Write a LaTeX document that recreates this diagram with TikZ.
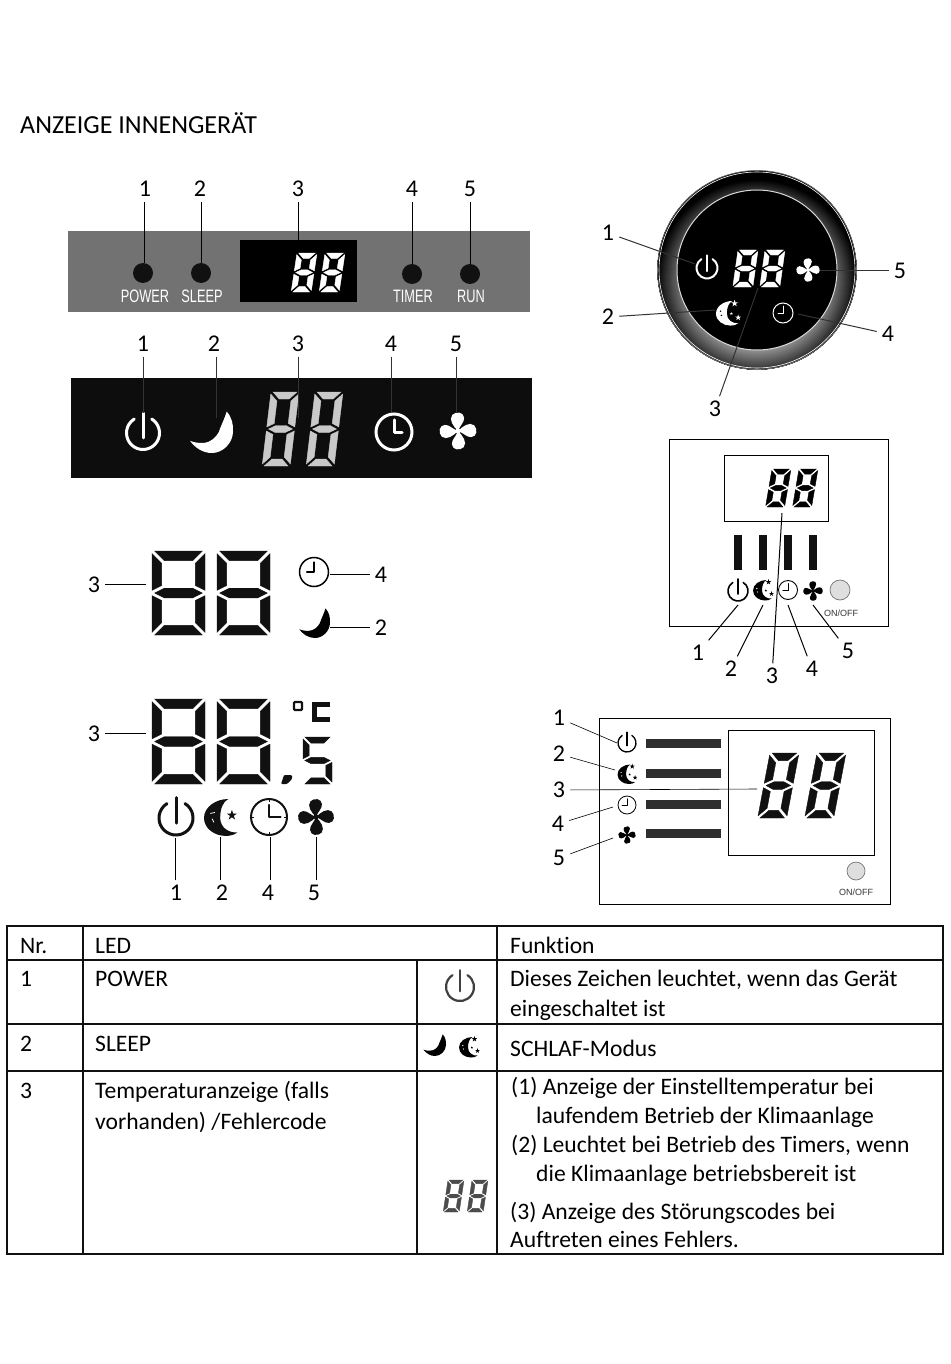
\documentclass[tikz,border=0pt]{standalone}
\usepackage{fontspec}
\setmainfont{Carlito}[Ligatures=CommonOff]
\newfontfamily\panelfont{Liberation Sans}
\definecolor{greypanel}{HTML}{727272}
\definecolor{inkdark}{HTML}{111111}
\definecolor{barcol}{HTML}{2E2E2E}
\definecolor{segpale}{HTML}{C9C9C9}
\tikzset{
  lbl/.style={font=\fontsize{24}{24}\selectfont,inner sep=5pt,text height=15pt,text depth=0pt,yshift=-1pt},
  conn/.style={draw=black,line width=1pt},
  thinconn/.style={draw=black,line width=.6pt},
  ringconn/.style={draw=black!80,line width=1pt},
  paneltxt/.style={font=\panelfont\fontsize{18}{18}\selectfont,text=white,transform shape,xscale=.71,inner sep=0pt},
  onoff/.style={font=\panelfont\fontsize{9}{9}\selectfont,text=black!80,inner sep=0pt},
  celltxt/.style={font=\fontsize{23.6}{23.6}\selectfont,anchor=base west,inner sep=0pt},
  frame/.style={draw=black,line width=1pt},
  gridline/.style={draw=inkdark,line width=1.4pt},
  button/.style={draw=black!55,fill=black!13,line width=.7pt},
}
% seven segment digit: x y w h t slant colour
\newcommand{\segA}{\filldraw (\dD,0)--({\dW-\dD},0)--({\dW-\dT-\dD},\dT)--({\dT+\dD},\dT)--cycle;}
\newcommand{\segF}{\filldraw (0,\dD)--(\dT,{\dT+\dD})--(\dT,{\dM-\dT/2-\dD})--(0,{\dM-\dD})--cycle;}
\newcommand{\segB}{\filldraw (\dW,\dD)--({\dW-\dT},{\dT+\dD})--({\dW-\dT},{\dM-\dT/2-\dD})--(\dW,{\dM-\dD})--cycle;}
\newcommand{\segG}{\filldraw (\dD,\dM)--({\dT+\dD},{\dM-\dT/2})--({\dW-\dT-\dD},{\dM-\dT/2})--({\dW-\dD},\dM)--({\dW-\dT-\dD},{\dM+\dT/2})--({\dT+\dD},{\dM+\dT/2})--cycle;}
\newcommand{\segE}{\filldraw (0,{\dM+\dD})--(\dT,{\dM+\dT/2+\dD})--(\dT,{\dH-\dT-\dD})--(0,{\dH-\dD})--cycle;}
\newcommand{\segC}{\filldraw (\dW,{\dM+\dD})--({\dW-\dT},{\dM+\dT/2+\dD})--({\dW-\dT},{\dH-\dT-\dD})--(\dW,{\dH-\dD})--cycle;}
\newcommand{\segD}{\filldraw (\dD,\dH)--({\dW-\dD},\dH)--({\dW-\dT-\dD},{\dH-\dT})--({\dT+\dD},{\dH-\dT})--cycle;}
\newcommand{\lcdsetup}[3]{\def\dW{#1}\def\dH{#2}\def\dT{#3}\pgfmathsetmacro{\dD}{0.25*#3+0.3}\pgfmathsetmacro{\dM}{#2/2}\pgfmathsetlengthmacro{\dL}{0.12*#3 pt}\tikzset{line width=\dL,line join=round}}
\newcommand{\lcdeight}[7]{\begin{scope}[shift={(#1,#2)},xslant=#6,fill=#7,draw=#7]\lcdsetup{#3}{#4}{#5}\segA\segB\segC\segD\segE\segF\segG\end{scope}}
\newcommand{\lcdfive}[7]{\begin{scope}[shift={(#1,#2)},xslant=#6,fill=#7,draw=#7]\lcdsetup{#3}{#4}{#5}\segA\segF\segG\segC\segD\end{scope}}
% icons, drawn in a unit circle with y up
\newcommand{\iconpwr}[5]{\begin{scope}[shift={(#1,#2)},x=#3pt,y=#3pt,line cap=round,line width=#4pt]
  \draw[#5] (58:1) arc (58:-238:1); \draw[#5] (0,1.2)--(0,-.3);\end{scope}}
\newcommand{\moonpath}{(.7,.97) .. controls (.95,.7) and (1.02,.35) .. (1,0) .. controls (.98,-.55) and (.5,-1) .. (0,-1) .. controls (-.45,-1) and (-.8,-.75) .. (-1.05,-.42) .. controls (-.7,-.55) and (-.4,-.55) .. (-.17,-.47) .. controls (.12,-.35) and (.35,-.05) .. (.39,.18) .. controls (.5,.45) and (.62,.7) .. (.7,.97) -- cycle}
\newcommand{\iconmoon}[4]{\begin{scope}[shift={(#1,#2)},x=#3pt,y=#3pt]\fill[#4] \moonpath;\end{scope}}
\newcommand{\mstar}[3]{\fill[shift={(#1,#2)},scale=#3] (90:1)--(126:.38)--(162:1)--(198:.38)--(234:1)--(270:.38)--(306:1)--(342:.38)--(18:1)--(54:.38)--cycle;}
\newcommand{\crescent}{(.35,1) .. controls (-.35,1) and (-1,.55) .. (-1,-.05) .. controls (-1,-.65) and (-.4,-1.05) .. (.2,-1.05) .. controls (.45,-1.05) and (.7,-1) .. (.85,-.85) .. controls (.4,-.9) and (-.1,-.6) .. (-.1,-.05) .. controls (-.1,.45) and (.05,.85) .. (.35,1) -- cycle}
\newcommand{\iconms}[5]{\begin{scope}[shift={(#1,#2)},x=#3pt,y=#3pt]\fill[#4] \crescent;
  \begin{scope}[fill=#4]\mstar{.55}{.8}{.3}\mstar{.28}{-.05}{.13}\mstar{.85}{-.38}{.26}\end{scope}
  \fill[#5] (-.62,.15) circle (.07); \fill[#5] (-.55,-.2) circle (.07);\end{scope}}
\newcommand{\iconmsone}[5]{\begin{scope}[shift={(#1,#2)},x=#3pt,y=#3pt]\fill[#4] \crescent;
  \begin{scope}[fill=#4]\mstar{.55}{.1}{.3}\end{scope}
  \draw[#5,line width=.8pt] (-.65,.2)--(-.4,.25) (-.55,-.1)--(-.45,-.3);\end{scope}}
\newcommand{\iconclock}[6]{\begin{scope}[shift={(#1,#2)},x=#3pt,y=#3pt,line width=#4pt]
  \draw[#5] (0,0) circle (1); \draw[#5,line cap=round,line join=round] (0,.68)--(0,0)--(#6,0);\end{scope}}
\newcommand{\iconfan}[4]{\begin{scope}[shift={(#1,#2)},x=#3pt,y=#3pt]
  \foreach \bladeang in {0,90,180,270}{\fill[#4,rotate=\bladeang] (0,0) .. controls (-.25,.25) and (-.5,.6) .. (-.3,.85) .. controls (-.1,1.05) and (.3,1) .. (.32,.7) .. controls (.34,.45) and (.1,.3) .. (0,0) -- cycle;}
  \fill[#4] (0,0) circle (.14);\end{scope}}
\begin{document}
\begin{tikzpicture}[x=1pt,y=-1pt]
\useasboundingbox (0,0) rectangle (950,1364);
\node[celltxt,font=\fontsize{26}{26}\selectfont] (title) at (20,134) {ANZEIGE INNENGERÄT};

% ---------- grey panel
\fill[greypanel] (68,231) rectangle (530,312);
\fill[black] (240,240) rectangle (357,302);
\lcdeight{297}{253}{20}{39}{5.4}{.15}{white}
\lcdeight{325}{253}{20}{39}{5.4}{.15}{white}
\fill[inkdark] (143,273) circle (10);
\fill[inkdark] (201,273) circle (10);
\fill[inkdark] (412,274) circle (10);
\fill[inkdark] (470,274) circle (10);
\node[paneltxt] (tpower) at (145,296) {POWER};
\node[paneltxt] (tsleep) at (202,296) {SLEEP};
\node[paneltxt] (ttimer) at (413,296) {TIMER};
\node[paneltxt] (trun) at (471,296) {RUN};
\node[lbl] (a1) at (145,188) {1};
\node[lbl] (a2) at (200,188) {2};
\node[lbl] (a3) at (298,188) {3};
\node[lbl] (a4) at (412,188) {4};
\node[lbl] (a5) at (470,188) {5};
\coordinate (pa1) at (144,263);
\coordinate (pa2) at (201,263);
\coordinate (pa3) at (298,240);
\coordinate (pa4) at (412,264);
\coordinate (pa5) at (470,264);
\foreach \lab/\pt in {a1/pa1,a2/pa2,a3/pa3,a4/pa4,a5/pa5}{\draw[conn] (\lab.south -| \pt) -- (\pt);}

% ---------- black panel
\fill[black!95] (71,378) rectangle (532,478);
\iconpwr{143}{433}{16.5}{3}{white}
\iconmoon{212}{432}{21}{white}
\lcdeight{271}{392}{28}{74}{7}{.12}{segpale}
\lcdeight{315}{392}{28}{74}{7}{.12}{segpale}
\iconclock{394}{432}{18}{3}{white}{.45}
\iconfan{458}{431}{19}{white}
\node[lbl] (b1) at (143,343) {1};
\node[lbl] (b2) at (214,343) {2};
\node[lbl] (b3) at (298,343) {3};
\node[lbl] (b4) at (391,343) {4};
\node[lbl] (b5) at (456,343) {5};
\coordinate (pb1) at (143,413);
\coordinate (pb2) at (216,418);
\coordinate (pb3) at (298,418);
\coordinate (pb4) at (391,412);
\coordinate (pb5) at (456,412);
\foreach \lab/\pt in {b1/pb1,b2/pb2,b3/pb3,b4/pb4,b5/pb5}{\draw[conn,draw=black!80] (\lab.south -| \pt) -- (\pt);}

% ---------- round panel
\coordinate (rc) at (757,270);
\begin{scope}
  \clip (rc) circle (99.5);
  \foreach \ringd in {110,109,...,68}{
    \pgfmathsetmacro{\ringp}{min(100,38+1.9*(\ringd-68))}
    \fill[black!\ringp] (757,280) circle (\ringd);
  }
\end{scope}
\draw[black!55,line width=.7pt] (rc) circle (99.5);
\draw[white,line width=.6pt] (rc) circle (98);
\fill[black] (rc) circle (80);
\draw[black!15,line width=1pt] (rc) circle (80);
\iconpwr{707}{268}{10.5}{2}{white}
\lcdeight{738}{250}{20}{37}{5}{.14}{white}
\lcdeight{765}{250}{20}{37}{5}{.14}{white}
\iconfan{808}{270}{12}{white}
\iconms{728}{313}{12}{white}{black}
\iconclock{783}{313}{10}{1}{white}{-.5}
\node[lbl] (c1) at (608,232) {1};
\node[lbl] (c2) at (608,316) {2};
\node[lbl] (c3) at (715,408) {3};
\node[lbl] (c4) at (888,333) {4};
\node[lbl] (c5) at (900,270) {5};
\coordinate (pc1) at (695,264);
\coordinate (pc2) at (715,310);
\coordinate (pc3) at (758,288);
\coordinate (pc4) at (798,314);
\coordinate (pc5) at (820,270);
\foreach \lab/\pt in {c1/pc1,c2/pc2,c3/pc3,c4/pc4}{\draw[ringconn] (\lab) -- (\pt);}
\draw[ringconn] (c5.west |- pc5) -- (pc5);

% ---------- square panel
\draw[frame] (669,439) rectangle (888,626);
\draw[frame] (724,455) rectangle (828,521);
\lcdeight{772}{469}{19}{38}{5.2}{.17}{black}
\lcdeight{799}{469}{19}{38}{5.2}{.17}{black}
\foreach \bx in {734,759,784,809}{\fill[inkdark] (\bx,535) rectangle (\bx+8,570);}
\iconpwr{738}{591}{10}{1.6}{black}
\iconms{763}{590}{10}{black}{white}
\iconclock{788}{590}{9.5}{.9}{black}{-.55}
\iconfan{813}{591}{10}{black}
\draw[button] (840,590) circle (10);
\node[onoff] (d6) at (841,613) {ON/OFF};
\node[lbl] (d1) at (698,652) {1};
\node[lbl] (d2) at (731,668) {2};
\node[lbl] (d3) at (772,675) {3};
\node[lbl] (d4) at (812,668) {4};
\node[lbl] (d5) at (848,650) {5};
\coordinate (pd1) at (738,605);
\coordinate (pd2) at (763,605);
\coordinate (pd3) at (782,513);
\coordinate (pd4) at (788,605);
\coordinate (pd5) at (813,605);
\foreach \lab/\pt in {d1/pd1,d2/pd2,d3/pd3,d4/pd4,d5/pd5}{\draw[conn] (\lab) -- (\pt);}

% ---------- large digits, upper
\lcdeight{152}{551}{53}{84}{9.6}{0}{inkdark}
\lcdeight{217}{551}{53}{84}{9.6}{0}{inkdark}
\iconclock{314}{572}{14.5}{1.5}{black}{-.5}
\iconmoon{315}{623}{15}{black}
\node[lbl] (e3) at (94,584) {3};
\node[lbl] (e4) at (381,574) {4};
\node[lbl] (e2) at (381,627) {2};
\coordinate (pe3) at (146,584);
\coordinate (pe4) at (330,574);
\coordinate (pe2) at (330,627);
\draw[conn] (e3.east |- pe3) -- (pe3);
\draw[conn] (e4.west |- pe4) -- (pe4);
\draw[conn] (e2.west |- pe2) -- (pe2);

% ---------- large digits, lower
\lcdeight{152}{699}{53}{85}{9.6}{0}{inkdark}
\lcdeight{217}{699}{53}{85}{9.6}{0}{inkdark}
\lcdfive{303}{737}{29}{47}{6.2}{0}{inkdark}
\fill[inkdark,rounded corners=1pt] (281,784)--(284,775)--(292,775)--(292,779)--(287,784)--cycle;
\draw[inkdark,line width=2.4pt,rounded corners=1pt] (294,702) rectangle (302,710);
\draw[inkdark,line width=5pt] (330,704.5)--(314.5,704.5)--(314.5,719.5)--(330,719.5);
\iconpwr{176}{818}{17}{3}{inkdark}
\iconmsone{222}{817}{18}{inkdark}{white}
\iconclock{269}{817}{18}{2}{inkdark}{.65}
\draw[inkdark,line width=1pt] (269,799)--(269,802) (269,832)--(269,835) (251,817)--(254,817) (284,817)--(287,817);
\iconfan{316}{817}{18.5}{inkdark}
\node[lbl] (f3) at (94,733) {3};
\node[lbl] (f1) at (176,892) {1};
\node[lbl] (f2) at (222,892) {2};
\node[lbl] (f4) at (268,892) {4};
\node[lbl] (f5) at (314,892) {5};
\coordinate (pf3) at (146,733);
\coordinate (pf1) at (175,838);
\coordinate (pf2) at (220,837);
\coordinate (pf4) at (270,837);
\coordinate (pf5) at (316,837);
\draw[conn] (f3.east |- pf3) -- (pf3);
\foreach \lab/\pt in {f1/pf1,f2/pf2,f4/pf4,f5/pf5}{\draw[conn] (\lab.north -| \pt) -- (\pt);}

% ---------- wide panel
\draw[frame] (599,718) rectangle (890,904);
\draw[frame] (728,730) rectangle (874,855);
\fill[barcol] (646,739) rectangle (721,748);
\fill[barcol] (646,769) rectangle (721,778);
\fill[barcol] (646,800) rectangle (721,809);
\fill[barcol] (646,829) rectangle (721,838);
\lcdeight{770}{753}{29}{65}{7.6}{.19}{inkdark}
\lcdeight{817}{753}{29}{65}{7.6}{.19}{inkdark}
\iconpwr{627}{743}{9}{1.3}{black}
\iconms{627}{774}{9.5}{black}{white}
\iconclock{627}{805}{9}{.8}{black}{-.55}
\iconfan{627}{835}{9}{black}
\draw[button] (856,871) circle (9);
\node[onoff] (g6) at (856,892) {ON/OFF};
\node[lbl] (g1) at (559,717) {1};
\node[lbl] (g2) at (559,753) {2};
\node[lbl] (g3) at (559,789) {3};
\node[lbl] (g4) at (558,823) {4};
\node[lbl] (g5) at (559,857) {5};
\coordinate (pg1) at (617,743);
\coordinate (pg2) at (615,770);
\coordinate (pg3) at (757,789);
\coordinate (pg4) at (613,807);
\coordinate (pg5) at (613,838);
\foreach \lab/\pt in {g1/pg1,g2/pg2,g3/pg3,g4/pg4,g5/pg5}{\draw[thinconn] (\lab) -- (\pt);}

% ---------- table
\draw[gridline] (7,926) rectangle (943,1254);
\draw[gridline] (7,960) -- (943,960);
\draw[gridline] (7,1024) -- (943,1024);
\draw[gridline] (7,1071) -- (943,1071);
\draw[gridline] (83,926) -- (83,1254);
\draw[gridline] (417,960) -- (417,1254);
\draw[gridline] (497,926) -- (497,1254);
\node[celltxt] (h1) at (20,953) {Nr.};
\node[celltxt] (h2) at (95,953) {LED};
\node[celltxt] (h3) at (510,953) {Funktion};
\node[celltxt] (r1a) at (20,986) {1};
\node[celltxt] (r1b) at (95,986) {POWER};
\node[celltxt] (r1c) at (510,986) {Dieses Zeichen leuchtet, wenn das Gerät};
\node[celltxt] (r1d) at (510,1016) {eingeschaltet ist};
\node[celltxt] (r2a) at (20,1051) {2};
\node[celltxt] (r2b) at (95,1051) {SLEEP};
\node[celltxt] (r2c) at (510,1056) {SCHLAF-Modus};
\node[celltxt] (r3a) at (20,1098) {3};
\node[celltxt] (r3b) at (95,1098) {Temperaturanzeige (falls};
\node[celltxt] (r3c) at (95,1129) {vorhanden) /Fehlercode};
\node[celltxt] (r3d) at (511,1094) {(1) Anzeige der Einstelltemperatur bei};
\node[celltxt] (r3e) at (536,1123) {laufendem Betrieb der Klimaanlage};
\node[celltxt] (r3f) at (511,1152) {(2) Leuchtet bei Betrieb des Timers, wenn};
\node[celltxt] (r3g) at (536,1181) {die Klimaanlage betriebsbereit ist};
\node[celltxt] (r3h) at (510,1219) {(3) Anzeige des Störungscodes bei};
\node[celltxt] (r3i) at (510,1247) {Auftreten eines Fehlers.};
\iconpwr{460}{987}{14}{2.2}{black!75}
\iconmoon{435}{1045}{11}{black}
\iconms{469}{1047}{10}{black}{white}
\lcdeight{448}{1180}{16}{32}{3.6}{.15}{black!70}
\lcdeight{472}{1180}{16}{32}{3.6}{.15}{black!70}
\end{tikzpicture}
\end{document}
